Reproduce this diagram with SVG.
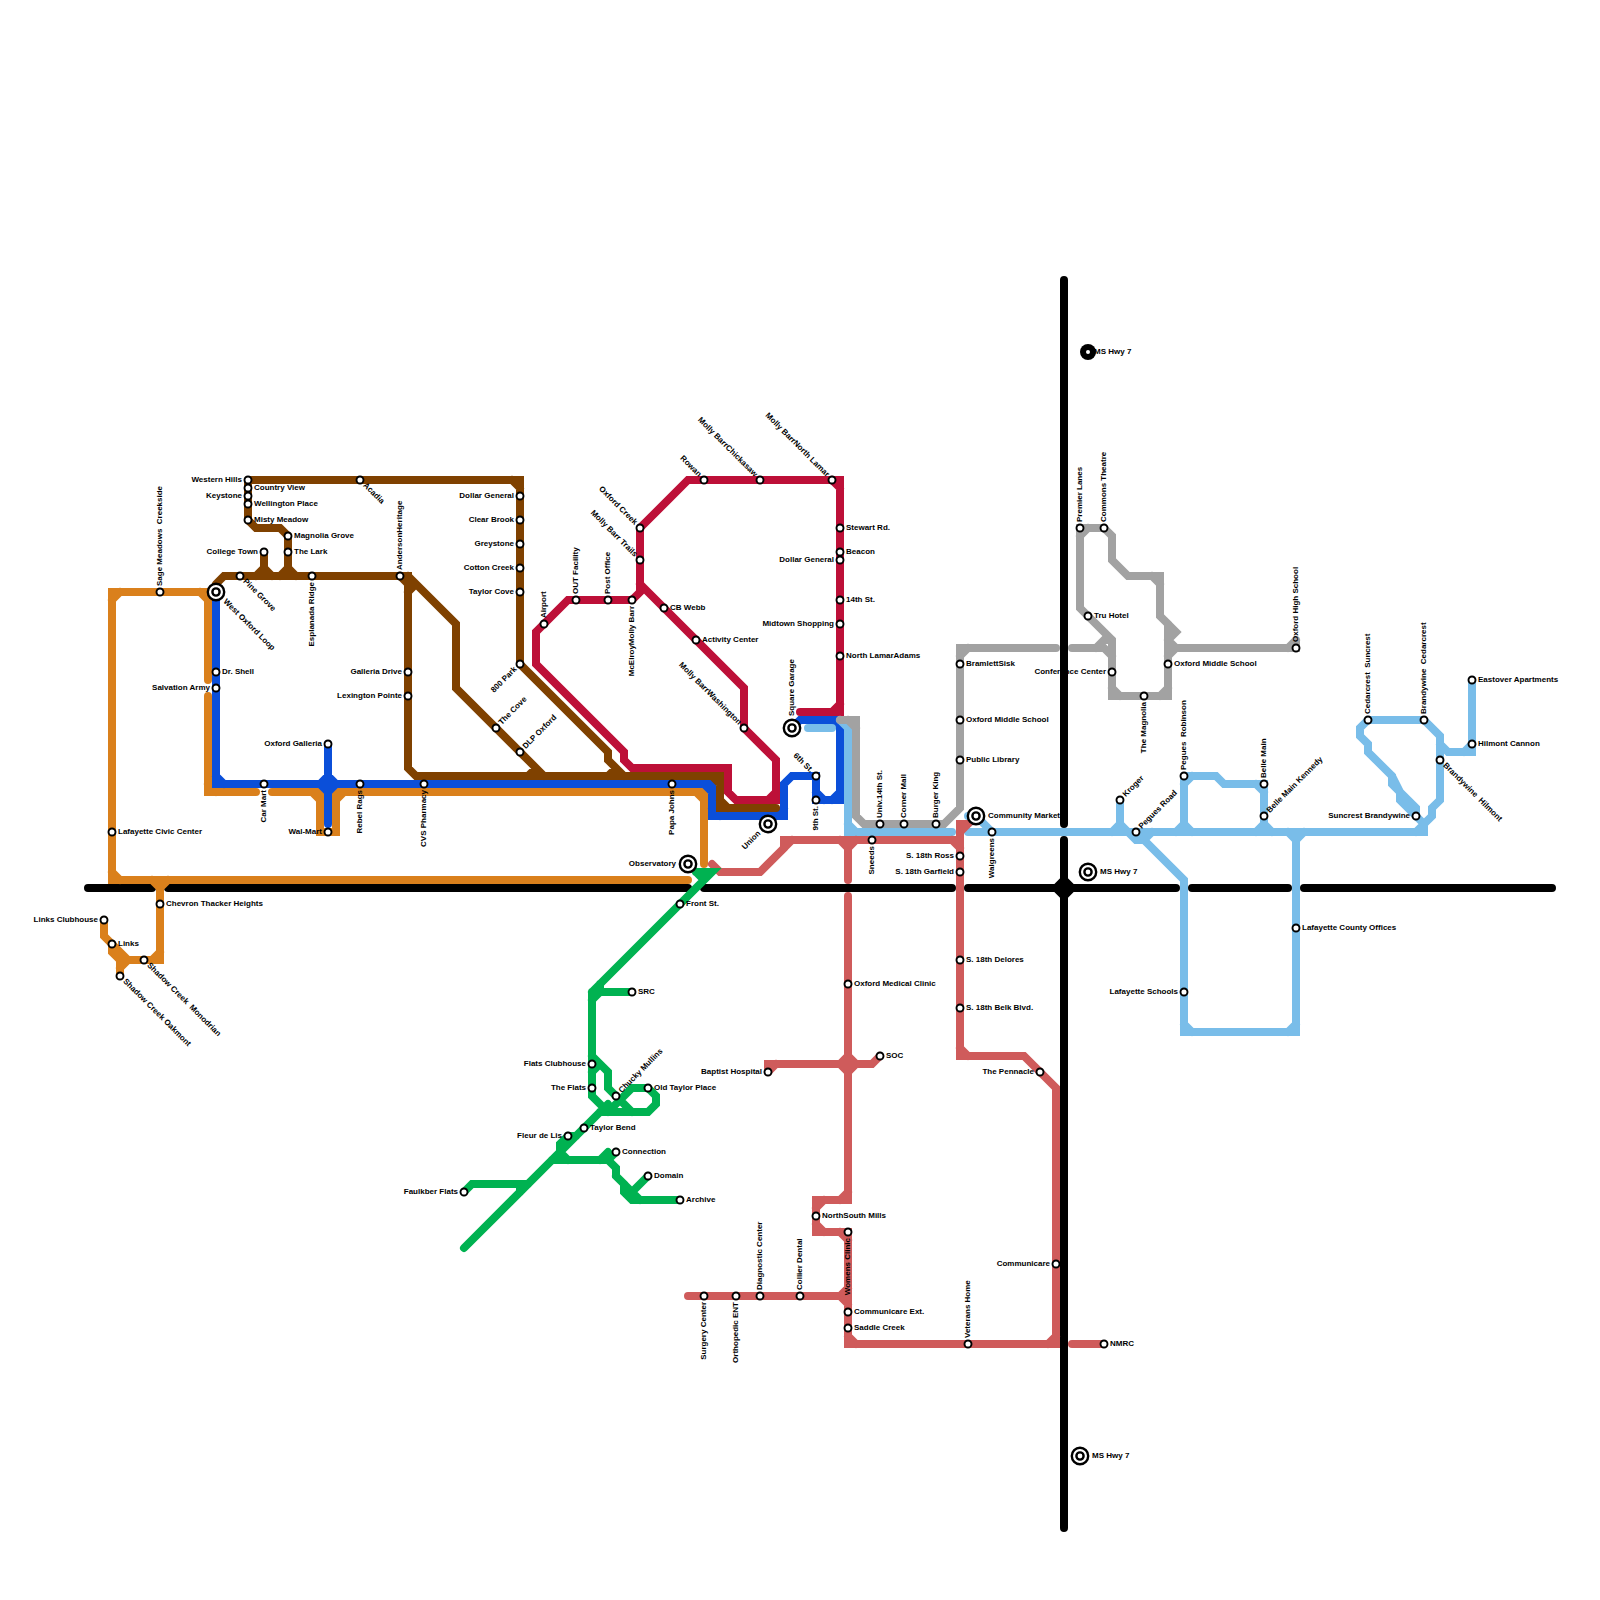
<svg xmlns="http://www.w3.org/2000/svg" width="1600" height="1600" viewBox="0 0 1600 1600">
<style>
.l{fill:none;stroke-width:8;stroke-linecap:round;stroke-linejoin:miter}
.k{stroke:#000}.o{stroke:#da801c}.b{stroke:#0b4fd9}.n{stroke:#7f4100}.c{stroke:#bd1038}.s{stroke:#79bde9}.g{stroke:#a2a2a2}.r{stroke:#cf5b5b}.e{stroke:#00b251}
.st{fill:#fff;stroke:#000;stroke-width:1.9}
.t{font-family:"Liberation Sans",Arial,sans-serif;font-size:8px;font-weight:700;fill:#000}
.a{text-anchor:end}
</style>
<rect width="1600" height="1600" fill="#fff"/>
<g id="connectors">
<path id="line-black" class="l k" d="M88 888H152M168 888H688M704 888H952M968 888H1176M1192 888H1288M1304 888H1552M1064 280V824M1064 840V1528M1056 888L1064 880L1072 888L1064 896Z"/>
<path id="line-orange" class="l o" d="M208 680V592H112V880H688M120 592L112 600M200 592L208 600M112 872L120 880M208 696V792H256M208 784L216 792M272 792H704V864M696 792L704 800M320 792V832H336V792M312 792L320 800M344 792L336 800M160 880V960H128L104 936V920M152 880L160 888M168 880L160 888M160 952L152 960M112 944V952L120 960V976M128 960L120 968"/>
<path id="line-blue" class="l b" d="M216 592V784H712V816H784V784L792 776H816V800H840V720H800L792 728M216 776L224 784M704 784L712 792M712 808L720 816M776 816L784 808M816 792L824 800M832 800L840 792M832 720L840 728M328 744V824M320 784L328 776L336 784L328 792Z"/>
<path id="line-brown" class="l n" d="M216 584L224 576H408V768L416 776H720V808H776M712 776L720 784M720 800L728 808M408 576L456 624V688L544 776M528 776L536 768M400 576L408 584M408 592L416 584M248 480H520V664L608 752V760L624 776M616 768L608 776M512 480L520 488M248 480V520L256 528H280L288 536V576M280 576L288 568L296 576M264 552V576M256 576L264 568L272 576"/>
<path id="line-crimson" class="l c" d="M800 712H840V480H688L640 528V592L632 600H568L536 632V664L624 752V760L632 768H728V792L736 800H776V760L744 728V688L640 584M832 712L840 704M832 480L840 488M768 800L776 792"/>
<path id="line-lightblue" class="l s" d="M808 728H832M840 720L848 728V832H952M848 824L856 832M968 832H1424V824L1432 816V808L1440 800V736L1424 720H1368L1360 728V736L1368 744V752L1392 776V784L1416 808V816M1392 776L1400 792V800L1416 816L1424 824M1416 832L1424 824M968 824L976 816L992 832M968 816H976M1120 800V832M1112 832L1120 824L1128 832M1128 832L1136 840H1144L1184 880V1032H1296V832M1152 832L1144 840M1184 1024L1192 1032M1288 1032L1296 1024M1288 832L1296 840L1304 832M1184 776V832M1176 832L1184 824L1192 832M1184 776H1216L1224 784H1264V832M1184 784L1192 776M1256 784L1264 792M1256 832L1264 824L1272 832M1440 744L1448 752H1472V680M1464 752L1472 744"/>
<path id="line-grey" class="l g" d="M840 720H856V816L864 824H944L960 808V648H1056M848 720L856 728M960 656L968 648M1072 648H1104L1112 656M1096 648L1104 640H1112M1104 528H1080V608L1112 640V696H1168V624L1160 616V576H1128L1112 560V536L1104 528M1080 536L1088 528M1112 688L1120 696M1160 696L1168 688M1152 576L1160 584M1168 624L1176 632L1168 640M1168 656L1176 648M1168 640L1176 648H1296V640M1288 648L1296 640"/>
<path id="line-coral" class="l r" d="M712 864L720 872H760L784 848V840H960M784 848L792 840M952 840L960 848M848 840V880M840 840L848 848L856 840M848 896V1200H816V1232H848V1344H1056V1088L1024 1056H960V824H968L960 832M840 1200L848 1192M816 1208L824 1200M816 1224L824 1232M840 1232L848 1240M848 1336L856 1344M1048 1344L1056 1336M960 1048L968 1056M688 1296H848M840 1296L848 1288M840 1296L848 1304M1072 1344H1104M768 1072V1064H872L880 1056M768 1072L776 1064M840 1064L848 1056L856 1064L848 1072Z"/>
<path id="line-green" class="l e" d="M696 872H712L592 992M696 872L704 880M592 992V1096L608 1112M464 1248L608 1104M592 992H632M592 1000L600 992M600 984V992M592 1056L608 1072V1088L632 1112M592 1072L600 1064M600 1112H648L656 1104V1096L648 1088H632L608 1112M568 1136H576M568 1136L560 1144V1152L568 1160M552 1160H608L616 1168V1176L624 1184V1192L632 1200H680M608 1160L616 1152M600 1160L608 1152M616 1176L640 1200M632 1192L648 1176M464 1192L472 1184H528M520 1184V1192"/>
</g>
<g id="nodes">
<defs>
<g id="x"><circle r="8.2" fill="#fff" stroke="#000" stroke-width="2.4"/><circle r="3.6" fill="#fff" stroke="#000" stroke-width="2.4"/></g>
<circle id="p" r="3.5" class="st"/>
</defs>
<g id="n-interchanges">
<use href="#x" x="216" y="592"/><use href="#x" x="688" y="864"/><use href="#x" x="768" y="824"/><use href="#x" x="792" y="728"/><use href="#x" x="976" y="816"/><use href="#x" x="1088" y="872"/><use href="#x" x="1080" y="1456"/>
<circle cx="1088" cy="352" r="8" fill="#000"/><circle cx="1088" cy="352" r="2" fill="#fff"/>
</g>
<g id="n-stations">
<use href="#p" x="160" y="592"/><use href="#p" x="112" y="832"/><use href="#p" x="160" y="904"/><use href="#p" x="104" y="920"/><use href="#p" x="112" y="944"/><use href="#p" x="144" y="960"/><use href="#p" x="120" y="976"/>
<use href="#p" x="248" y="480"/><use href="#p" x="248" y="488"/><use href="#p" x="248" y="496"/><use href="#p" x="248" y="504"/><use href="#p" x="248" y="520"/><use href="#p" x="288" y="536"/><use href="#p" x="288" y="552"/><use href="#p" x="264" y="552"/><use href="#p" x="240" y="576"/><use href="#p" x="312" y="576"/><use href="#p" x="400" y="576"/><use href="#p" x="360" y="480"/><use href="#p" x="520" y="496"/><use href="#p" x="520" y="520"/><use href="#p" x="520" y="544"/><use href="#p" x="520" y="568"/><use href="#p" x="520" y="592"/><use href="#p" x="520" y="664"/><use href="#p" x="496" y="728"/><use href="#p" x="520" y="752"/><use href="#p" x="408" y="672"/><use href="#p" x="408" y="696"/>
<use href="#p" x="216" y="672"/><use href="#p" x="216" y="688"/><use href="#p" x="264" y="784"/><use href="#p" x="360" y="784"/><use href="#p" x="424" y="784"/><use href="#p" x="672" y="784"/><use href="#p" x="328" y="744"/><use href="#p" x="328" y="832"/><use href="#p" x="816" y="776"/><use href="#p" x="816" y="800"/>
<use href="#p" x="544" y="624"/><use href="#p" x="576" y="600"/><use href="#p" x="608" y="600"/><use href="#p" x="632" y="600"/><use href="#p" x="664" y="608"/><use href="#p" x="696" y="640"/><use href="#p" x="744" y="728"/><use href="#p" x="640" y="560"/><use href="#p" x="640" y="528"/><use href="#p" x="704" y="480"/><use href="#p" x="760" y="480"/><use href="#p" x="832" y="480"/><use href="#p" x="840" y="528"/><use href="#p" x="840" y="552"/><use href="#p" x="840" y="560"/><use href="#p" x="840" y="600"/><use href="#p" x="840" y="624"/><use href="#p" x="840" y="656"/>
<use href="#p" x="880" y="824"/><use href="#p" x="904" y="824"/><use href="#p" x="936" y="824"/><use href="#p" x="960" y="664"/><use href="#p" x="960" y="720"/><use href="#p" x="960" y="760"/><use href="#p" x="1080" y="528"/><use href="#p" x="1104" y="528"/><use href="#p" x="1088" y="616"/><use href="#p" x="1112" y="672"/><use href="#p" x="1144" y="696"/><use href="#p" x="1168" y="664"/><use href="#p" x="1296" y="648"/>
<use href="#p" x="992" y="832"/><use href="#p" x="1120" y="800"/><use href="#p" x="1136" y="832"/><use href="#p" x="1184" y="776"/><use href="#p" x="1264" y="784"/><use href="#p" x="1264" y="816"/><use href="#p" x="1368" y="720"/><use href="#p" x="1424" y="720"/><use href="#p" x="1440" y="760"/><use href="#p" x="1472" y="680"/><use href="#p" x="1472" y="744"/><use href="#p" x="1416" y="816"/><use href="#p" x="1296" y="928"/><use href="#p" x="1184" y="992"/>
<use href="#p" x="872" y="840"/><use href="#p" x="960" y="856"/><use href="#p" x="960" y="872"/><use href="#p" x="960" y="960"/><use href="#p" x="960" y="1008"/><use href="#p" x="848" y="984"/><use href="#p" x="768" y="1072"/><use href="#p" x="880" y="1056"/><use href="#p" x="816" y="1216"/><use href="#p" x="848" y="1232"/><use href="#p" x="760" y="1296"/><use href="#p" x="800" y="1296"/><use href="#p" x="704" y="1296"/><use href="#p" x="736" y="1296"/><use href="#p" x="848" y="1312"/><use href="#p" x="848" y="1328"/><use href="#p" x="968" y="1344"/><use href="#p" x="1040" y="1072"/><use href="#p" x="1056" y="1264"/><use href="#p" x="1104" y="1344"/>
<use href="#p" x="680" y="904"/><use href="#p" x="632" y="992"/><use href="#p" x="592" y="1064"/><use href="#p" x="592" y="1088"/><use href="#p" x="616" y="1096"/><use href="#p" x="648" y="1088"/><use href="#p" x="584" y="1128"/><use href="#p" x="568" y="1136"/><use href="#p" x="616" y="1152"/><use href="#p" x="648" y="1176"/><use href="#p" x="680" y="1200"/><use href="#p" x="464" y="1192"/>
</g>
<g id="labels" class="t">
<text x="166" y="594" transform="rotate(-90 160 592)" xml:space="preserve">Sage Meadows  Creekside</text>
<text x="118" y="834">Lafayette Civic Center</text>
<text x="166" y="906">Chevron Thacker Heights</text>
<text x="98" y="922" class="a">Links Clubhouse</text>
<text x="118" y="946">Links</text>
<text x="150" y="962" transform="rotate(45 144 960)" xml:space="preserve">Shadow Creek  Monodrian</text>
<text x="126" y="978" transform="rotate(45 120 976)">Shadow Creek Oakmont</text>
<text x="228" y="594" transform="rotate(45 216 592)">West Oxford Loop</text>
<text x="676" y="866" class="a">Observatory</text>
<text x="242" y="482" class="a">Western Hills</text>
<text x="254" y="490">Country View</text>
<text x="242" y="498" class="a">Keystone</text>
<text x="254" y="506">Wellington Place</text>
<text x="254" y="522">Misty Meadow</text>
<text x="294" y="538">Magnolia Grove</text>
<text x="294" y="554">The Lark</text>
<text x="258" y="554" class="a">College Town</text>
<text x="246" y="578" transform="rotate(45 240 576)">Pine Grove</text>
<text x="306" y="578" class="a" transform="rotate(-90 312 576)">Esplanada Ridge</text>
<text x="406" y="578" transform="rotate(-90 400 576)">AndersonHeritage</text>
<text x="366" y="482" transform="rotate(45 360 480)">Acadia</text>
<text x="514" y="498" class="a">Dollar General</text>
<text x="514" y="522" class="a">Clear Brook</text>
<text x="514" y="546" class="a">Greystone</text>
<text x="514" y="570" class="a">Cotton Creek</text>
<text x="514" y="594" class="a">Taylor Cove</text>
<text x="514" y="666" class="a" transform="rotate(-45 520 664)">800 Park</text>
<text x="502" y="730" transform="rotate(-45 496 728)">The Cove</text>
<text x="526" y="754" transform="rotate(-45 520 752)">DLP Oxford</text>
<text x="402" y="674" class="a">Galleria Drive</text>
<text x="402" y="698" class="a">Lexington Pointe</text>
<text x="222" y="674">Dr. Shell</text>
<text x="210" y="690" class="a">Salvation Army</text>
<text x="258" y="786" class="a" transform="rotate(-90 264 784)">Car Mart</text>
<text x="354" y="786" class="a" transform="rotate(-90 360 784)">Rebel Rags</text>
<text x="418" y="786" class="a" transform="rotate(-90 424 784)">CVS Pharmacy</text>
<text x="666" y="786" class="a" transform="rotate(-90 672 784)">Papa Johns</text>
<text x="322" y="746" class="a">Oxford Galleria</text>
<text x="322" y="834" class="a">Wal-Mart</text>
<text x="756" y="826" class="a" transform="rotate(-45 768 824)">Union</text>
<text x="810" y="778" class="a" transform="rotate(45 816 776)">6th St.</text>
<text x="810" y="802" class="a" transform="rotate(-90 816 800)">9th St.</text>
<text x="804" y="730" transform="rotate(-90 792 728)">Square Garage</text>
<text x="550" y="626" transform="rotate(-90 544 624)">Airport</text>
<text x="582" y="602" transform="rotate(-90 576 600)">OUT Facility</text>
<text x="614" y="602" transform="rotate(-90 608 600)">Post Office</text>
<text x="626" y="602" class="a" transform="rotate(-90 632 600)">McElroyMolly Barr</text>
<text x="670" y="610">CB Webb</text>
<text x="702" y="642">Activity Center</text>
<text x="738" y="730" class="a" transform="rotate(45 744 728)">Molly BarrWashington</text>
<text x="634" y="562" class="a" transform="rotate(45 640 560)">Molly Barr Trails</text>
<text x="634" y="530" class="a" transform="rotate(45 640 528)">Oxford Creek</text>
<text x="698" y="482" class="a" transform="rotate(45 704 480)">Rowan</text>
<text x="754" y="482" class="a" transform="rotate(45 760 480)">Molly BarrChickasaw</text>
<text x="826" y="482" class="a" transform="rotate(45 832 480)">Molly BarrNorth Lamar</text>
<text x="846" y="530">Stewart Rd.</text>
<text x="846" y="554">Beacon</text>
<text x="834" y="562" class="a">Dollar General</text>
<text x="846" y="602">14th St.</text>
<text x="834" y="626" class="a">Midtown Shopping</text>
<text x="846" y="658">North LamarAdams</text>
<text x="886" y="826" transform="rotate(-90 880 824)">Univ.14th St.</text>
<text x="910" y="826" transform="rotate(-90 904 824)">Corner Mall</text>
<text x="942" y="826" transform="rotate(-90 936 824)">Burger King</text>
<text x="966" y="666">BramlettSisk</text>
<text x="966" y="722">Oxford Middle School</text>
<text x="966" y="762">Public Library</text>
<text x="1086" y="530" transform="rotate(-90 1080 528)">Premier Lanes</text>
<text x="1110" y="530" transform="rotate(-90 1104 528)">Commons Theatre</text>
<text x="1094" y="618">Tru Hotel</text>
<text x="1106" y="674" class="a">Conference Center</text>
<text x="1138" y="698" class="a" transform="rotate(-90 1144 696)">The Magnolia</text>
<text x="1174" y="666">Oxford Middle School</text>
<text x="1302" y="650" transform="rotate(-90 1296 648)">Oxford High School</text>
<text x="988" y="818">Community Market</text>
<text x="986" y="834" class="a" transform="rotate(-90 992 832)">Walgreens</text>
<text x="1126" y="802" transform="rotate(-45 1120 800)">Kroger</text>
<text x="1142" y="834" transform="rotate(-45 1136 832)">Pegues Road</text>
<text x="1190" y="778" transform="rotate(-90 1184 776)" xml:space="preserve">Pegues  Robinson</text>
<text x="1270" y="786" transform="rotate(-90 1264 784)">Belle Main</text>
<text x="1270" y="818" transform="rotate(-45 1264 816)">Belle Main Kennedy</text>
<text x="1374" y="722" transform="rotate(-90 1368 720)" xml:space="preserve">Cedarcrest  Suncrest</text>
<text x="1430" y="722" transform="rotate(-90 1424 720)" xml:space="preserve">Brandywine  Cedarcrest</text>
<text x="1446" y="762" transform="rotate(45 1440 760)" xml:space="preserve">Brandywine  Hilmont</text>
<text x="1478" y="682">Eastover Apartments</text>
<text x="1478" y="746">Hilmont Cannon</text>
<text x="1410" y="818" class="a">Suncrest Brandywine</text>
<text x="1302" y="930">Lafayette County Offices</text>
<text x="1178" y="994" class="a">Lafayette Schools</text>
<text x="866" y="842" class="a" transform="rotate(-90 872 840)">Sneeds</text>
<text x="954" y="858" class="a">S. 18th Ross</text>
<text x="954" y="874" class="a">S. 18th Garfield</text>
<text x="966" y="962">S. 18th Delores</text>
<text x="966" y="1010">S. 18th Belk Blvd.</text>
<text x="854" y="986">Oxford Medical Clinic</text>
<text x="762" y="1074" class="a">Baptist Hospital</text>
<text x="886" y="1058">SOC</text>
<text x="822" y="1218">NorthSouth Mills</text>
<text x="842" y="1234" class="a" transform="rotate(-90 848 1232)">Womens Clinic</text>
<text x="766" y="1298" transform="rotate(-90 760 1296)">Diagnostic Center</text>
<text x="806" y="1298" transform="rotate(-90 800 1296)">Collier Dental</text>
<text x="698" y="1298" class="a" transform="rotate(-90 704 1296)">Surgery Center</text>
<text x="730" y="1298" class="a" transform="rotate(-90 736 1296)">Orthopedic ENT</text>
<text x="854" y="1314">Communicare Ext.</text>
<text x="854" y="1330">Saddle Creek</text>
<text x="974" y="1346" transform="rotate(-90 968 1344)">Veterans Home</text>
<text x="1034" y="1074" class="a">The Pennacle</text>
<text x="1050" y="1266" class="a">Communicare</text>
<text x="1110" y="1346">NMRC</text>
<text x="686" y="906">Front St.</text>
<text x="638" y="994">SRC</text>
<text x="586" y="1066" class="a">Flats Clubhouse</text>
<text x="586" y="1090" class="a">The Flats</text>
<text x="622" y="1098" transform="rotate(-45 616 1096)">Chucky Mullins</text>
<text x="654" y="1090">Old Taylor Place</text>
<text x="590" y="1130">Taylor Bend</text>
<text x="562" y="1138" class="a">Fleur de Lis</text>
<text x="622" y="1154">Connection</text>
<text x="654" y="1178">Domain</text>
<text x="686" y="1202">Archive</text>
<text x="458" y="1194" class="a">Faulkber Flats</text>
<text x="1094" y="354">MS Hwy 7</text>
<text x="1100" y="874">MS Hwy 7</text>
<text x="1092" y="1458">MS Hwy 7</text>
</g>
</g>
</svg>
